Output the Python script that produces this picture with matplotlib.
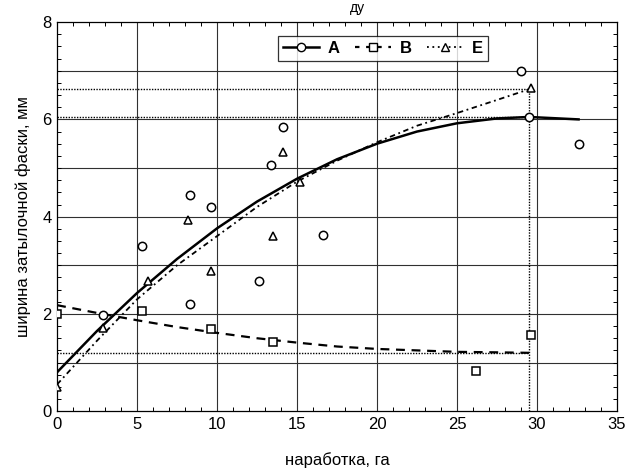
import matplotlib.pyplot as plt
from matplotlib.ticker import MultipleLocator

plt.rcParams['font.family'] = ['Liberation Sans', 'DejaVu Sans']

# measured points
a_x = [2.9, 5.3, 8.3, 8.3, 9.6, 12.6, 13.4, 14.1, 16.6, 29.0, 29.5, 32.6]
a_y = [1.97, 3.4, 2.2, 4.45, 4.2, 2.67, 5.07, 5.85, 3.63, 7.0, 6.05, 5.5]
b_x = [0.0, 5.3, 9.6, 13.5, 26.2, 29.6]
b_y = [2.0, 2.05, 1.7, 1.42, 0.82, 1.57]
e_x = [0.0, 2.9, 5.7, 8.2, 9.6, 13.5, 14.1, 15.2, 29.6]
e_y = [0.5, 1.72, 2.67, 3.93, 2.88, 3.6, 5.33, 4.72, 6.65]

# trend curves
fa_x = [0, 2.5, 5, 7.5, 10, 12.5, 15, 17.5, 20, 22.5, 25, 27.5, 29.5, 32.6]
fa_y = [0.80, 1.65, 2.43, 3.13, 3.76, 4.31, 4.78, 5.18, 5.50, 5.75, 5.92, 6.02, 6.05, 6.00]
fb_x = [0, 2.5, 5, 7.5, 10, 12.5, 15, 17.5, 20, 22.5, 25, 27.5, 29.5]
fb_y = [2.18, 2.02, 1.87, 1.73, 1.61, 1.50, 1.41, 1.33, 1.28, 1.25, 1.22, 1.21, 1.20]
fe_x = [0, 2.5, 5, 7.5, 10, 12.5, 15, 17.5, 20, 22.5, 25, 27.5, 29.6]
fe_y = [0.55, 1.45, 2.3, 3.0, 3.6, 4.2, 4.72, 5.15, 5.53, 5.87, 6.13, 6.4, 6.63]

# reference levels
x_ref = 29.5
y_refs = [6.05, 6.62, 1.2]

fig = plt.figure(figsize=(6.27, 4.71), dpi=100)
ax = fig.add_axes([0.091, 0.127, 0.893, 0.826])

ax.set_xlim(0, 35)
ax.set_ylim(0, 8)
ax.xaxis.set_major_locator(MultipleLocator(5))
ax.xaxis.set_minor_locator(MultipleLocator(1))
ax.yaxis.set_major_locator(MultipleLocator(2))
ax.yaxis.set_minor_locator(MultipleLocator(0.25))
ax.tick_params(which='both', direction='in', top=True, right=True, labelsize=12)
ax.tick_params(which='major', length=0, pad=4)
ax.tick_params(which='minor', length=3, width=0.7)

for gx in range(5, 35, 5):
    ax.axvline(gx, color='#303030', lw=0.8, zorder=1)
for gy in range(1, 8):
    ax.axhline(gy, color='#303030', lw=0.8, zorder=1)

for yr in y_refs:
    ax.plot([0, x_ref], [yr, yr], color='black', lw=1.0, ls=(0, (1, 1)), zorder=2)
ax.plot([x_ref, x_ref], [0, y_refs[1]], color='black', lw=1.0, ls=(0, (1, 1)), zorder=2)

ax.plot(fa_x, fa_y, color='black', lw=1.8, zorder=3)
ax.plot(fb_x, fb_y, color='black', lw=1.6, ls=(0, (4, 3)), zorder=3)
ax.plot(fe_x, fe_y, color='black', lw=1.3, ls=(0, (3, 2, 1, 2)), zorder=3)

mk = dict(ls='none', mfc='white', mec='black', mew=1.1, ms=6, zorder=4)
ax.plot(a_x, a_y, marker='o', **mk)
ax.plot(b_x, b_y, marker='s', **{**mk, 'ms': 5.5})
ax.plot(e_x, e_y, marker='^', **mk)

# legend handles: line with the marker in the middle
h_a, = ax.plot([], [], color='black', lw=1.8, marker='o', mfc='white', mec='black', ms=6)
h_b, = ax.plot([], [], color='black', lw=1.6, ls=(0, (2, 3)), marker='s', mfc='white', mec='black', ms=5.5)
h_e, = ax.plot([], [], color='black', lw=1.3, ls=(0, (1, 2)), marker='^', mfc='white', mec='black', ms=6)
leg = ax.legend([h_a, h_b, h_e], ['A', 'B', 'E'], ncol=3, loc='upper left',
                bbox_to_anchor=(0.379, 0.985), frameon=True, fancybox=False,
                edgecolor='black', handlelength=2.2, columnspacing=0.9,
                borderpad=0.3, handletextpad=0.5, prop={'weight': 'bold', 'size': 12})
leg.get_frame().set_linewidth(0.9)

for s in ax.spines.values():
    s.set_linewidth(0.9)

ax.set_xlabel('наработка, га', fontsize=12, labelpad=15)
ax.set_ylabel('ширина затылочной фаски, мм', fontsize=12, labelpad=8)
fig.text(0.57, 0.998, 'ду', ha='center', va='top', fontsize=10)

fig.savefig('out.png', dpi=100)
